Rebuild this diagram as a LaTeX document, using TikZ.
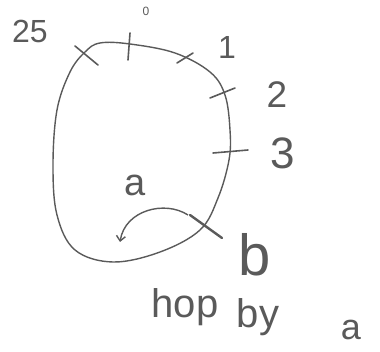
\documentclass[tikz,border=0pt]{standalone}
\usepackage{fontspec}
\setmainfont{Liberation Sans}
\usetikzlibrary{arrows.meta}
\definecolor{ink}{HTML}{5A5A5A}
\begin{document}
\begin{tikzpicture}[x=1pt,y=-1pt,
  loop/.style={draw=ink,line width=1.4pt,line join=round},
  tick/.style={draw=ink,line width=1.6pt,line cap=round},
  lbl/.style={text=ink,inner sep=0pt},
  fs/.style={font=\fontsize{#1}{#1}\selectfont}]
\useasboundingbox (0,0) rectangle (380,352);
% ring
\draw[loop] plot[smooth cycle,tension=0.6] coordinates {
 (100,43) (130,44) (175,53) (210,72) (225,95) (230,130) (229,160)
 (218,198) (200,230) (160,252) (113,262) (75,250) (57,215) (53,165)
 (57,110) (70,72) (85,52)};
% ticks
\coordinate (t25a) at (75,46); \coordinate (t25b) at (98,65);
\coordinate (t0a) at (130,33); \coordinate (t0b) at (128,60);
\coordinate (t1a) at (177,63); \coordinate (t1b) at (193,53);
\coordinate (t2a) at (210,98); \coordinate (t2b) at (235,88);
\coordinate (t3a) at (213,153); \coordinate (t3b) at (248,150);
\coordinate (tba) at (190,215); \coordinate (tbb) at (222,238);
\draw[tick] (t25a) -- (t25b);
\draw[tick] (t0a) -- (t0b);
\draw[tick] (t1a) -- (t1b);
\draw[tick] (t2a) -- (t2b);
\draw[tick] (t3a) -- (t3b);
\draw[tick,line width=2.4pt] (tba) -- (tbb);
% labels
\node[lbl,fs=32] (l25) at (30,31) {25};
\node[lbl,fs=12] (l0) at (146,11) {0};
\node[lbl,fs=32] (l1) at (227,47) {1};
\node[lbl,fs=37] (l2) at (277,95) {2};
\node[lbl,fs=44] (l3) at (283,153) {3};
\node[lbl,fs=38] (la) at (135,185) {a};
\node[lbl,fs=58] (lb) at (255,255) {b};
\node[lbl,fs=40,anchor=base] (hop) at (185,318) {hop};
\node[lbl,fs=40,anchor=base] (by) at (258,328) {by};
\node[lbl,fs=36,anchor=base] (ha) at (351,340) {a};
% hop arrow
\coordinate (hs) at (188,215);
\coordinate (he) at (120,242);
\draw[loop,-{Straight Barb[length=5pt,width=9pt]}] (hs) .. controls (165,200) and (125,210) .. (he);
\end{tikzpicture}
\end{document}
